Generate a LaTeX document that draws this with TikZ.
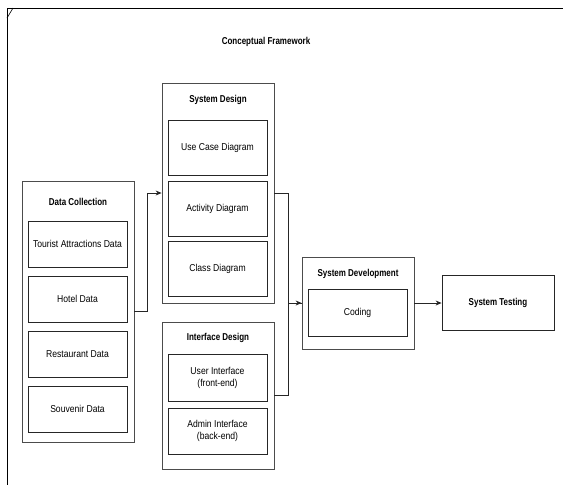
\documentclass[tikz,border=0pt]{standalone}
\usepackage{fontspec}
\setmainfont[FakeStretch=0.86]{Liberation Sans}
\newfontfamily\narrowhead[FakeStretch=0.8]{Liberation Sans}
\usetikzlibrary{positioning}
\usetikzlibrary{arrows.meta}

\tikzset{
    outer/.style = {draw = black!70, line width = 0.8pt, fill = white},
    inner/.style = {draw = black!85, line width = 0.8pt, fill = white, align = center, font = \fontsize{10}{12}\selectfont},
    head/.style = {font = \narrowhead\fontsize{10}{12}\selectfont\bfseries},
    link/.style = {draw = black!85, line width = 0.8pt}
}

\begin{document}
\begin{tikzpicture}[x = 1pt, y = -1pt, >={Stealth[length=6pt, width=5pt]}]
        \useasboundingbox (0,0) rectangle (563,485);
        % frame
        \draw[line width = 0.8pt] (7,485)--(7,8)--(563,8);
        \draw[line width = 0.6pt] (7,18)--(13,8);
        \node[head] (title) at (266,42) {Conceptual Framework};

        % data collection
        \node[outer, minimum width = 112pt, minimum height = 261pt] (dc) at (78,311.5) {};
        \node[head] (dctitle) at (78,202) {Data Collection};
        \node[inner, minimum width = 99pt, minimum height = 46pt] (tourist) at (77.5,244) {Tourist Attractions Data};
        \node[inner, minimum width = 99pt, minimum height = 46pt] (hotel) at (77.5,299) {Hotel Data};
        \node[inner, minimum width = 99pt, minimum height = 46pt] (resto) at (77.5,354) {Restaurant Data};
        \node[inner, minimum width = 99pt, minimum height = 46pt] (souvenir) at (77.5,409) {Souvenir Data};

        % system design
        \node[outer, minimum width = 112pt, minimum height = 220pt] (sd) at (218,193) {};
        \node[head] (sdtitle) at (218,100) {System Design};
        \node[inner, minimum width = 99pt, minimum height = 55pt] (usecase) at (217.5,147.5) {Use Case Diagram};
        \node[inner, minimum width = 99pt, minimum height = 55pt] (activity) at (217.5,208.5) {Activity Diagram};
        \node[inner, minimum width = 99pt, minimum height = 55pt] (class) at (217.5,269) {Class Diagram};

        % interface design
        \node[outer, minimum width = 112pt, minimum height = 147pt] (id) at (218,395.5) {};
        \node[head] (idtitle) at (218,338) {Interface Design};
        \node[inner, minimum width = 99pt, minimum height = 47pt] (user) at (217.5,377.5) {User Interface\\(front-end)};
        \node[inner, minimum width = 99pt, minimum height = 46pt] (admin) at (217.5,431) {Admin Interface\\(back-end)};

        % system development
        \node[outer, minimum width = 112pt, minimum height = 92pt] (sdev) at (358,303) {};
        \node[head] (sdevtitle) at (358,274) {System Development};
        \node[inner, minimum width = 99pt, minimum height = 47pt] (coding) at (357.5,312.5) {Coding};

        % system testing
        \node[outer, draw = black!85, head, minimum width = 112pt, minimum height = 55pt] (test) at (498,303) {System Testing};

        % connectors
        \draw[link,->] (dc.east)--++(13,0)|-(sd.west);
        \draw[link] (sd.east)--++(14,0)|-(sdev.west);
        \draw[link,->] (id.east)--++(14,0)|-(sdev.west);
        \draw[link,->] (sdev.east)--(test.west);
\end{tikzpicture}
\end{document}
